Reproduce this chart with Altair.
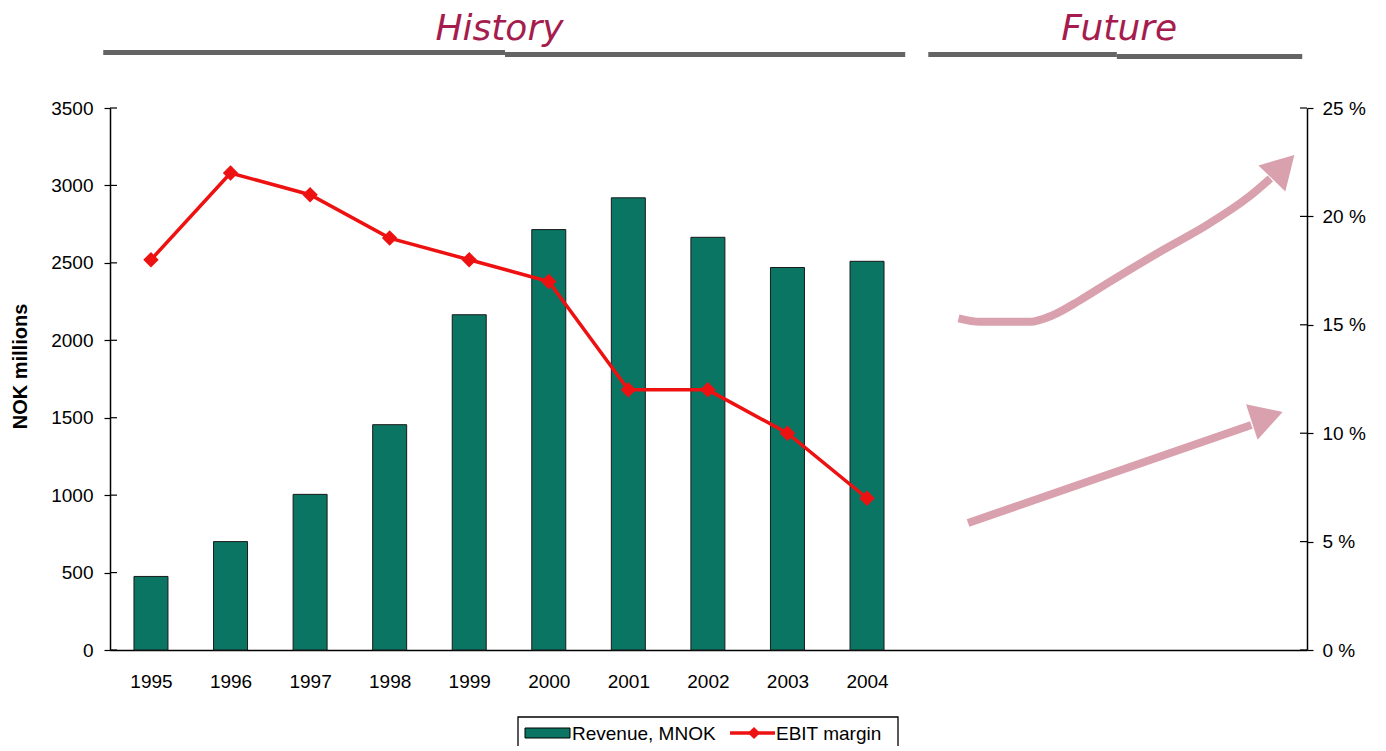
import altair as alt
import pandas as pd

# ---------------- data ----------------
years = [1995, 1996, 1997, 1998, 1999, 2000, 2001, 2002, 2003, 2004]
revenue = [475, 700, 1005, 1455, 2165, 2715, 2920, 2665, 2470, 2510]
ebit_margin = [18, 22, 21, 19, 18, 17, 12, 12, 10, 7]

left_ticks = [0, 500, 1000, 1500, 2000, 2500, 3000, 3500]
right_ticks = [0, 5, 10, 15, 20, 25]

# "Future" trend arrows (x in years, y in % of the right axis)
upper_arrow_x = [2005.15, 2005.42, 2006.05, 2006.34, 2006.68, 2007.09, 2007.72, 2008.27, 2008.78, 2009.07]
upper_arrow_y = [15.30, 15.14, 15.14, 15.45, 16.14, 17.07, 18.45, 19.60, 20.85, 21.75]
lower_arrow_x = [2005.27, 2008.83]
lower_arrow_y = [5.86, 10.38]
arrow_head_x = [2009.23, 2009.03]
arrow_head_y = [22.29, 10.75]
arrow_head_angle = [44, 72]

section_labels = ["History", "Future"]
section_label_x = [1999.38, 2007.17]
section_line_start = [1994.40, 1999.45, 2004.77, 2007.14]
section_line_end = [1999.45, 2004.48, 2007.14, 2009.47]

# ---------------- styles ----------------
TEAL = "#0B7563"
RED = "#EE1111"
PINK = "#D9A1AD"
CRIMSON = "#A51C4E"
GREY = "#646464"
FONT = "Liberation Sans"
W, H = 1197, 542
LBL = 19

df = pd.DataFrame({"year": years, "revenue": revenue, "margin": ebit_margin})
df_lt = pd.DataFrame({"v": left_ticks})
df_rt = pd.DataFrame({"v": right_ticks})
arrows = pd.DataFrame({
    "x": upper_arrow_x + lower_arrow_x,
    "y": upper_arrow_y + lower_arrow_y,
    "arrow": ["up"] * len(upper_arrow_x) + ["low"] * len(lower_arrow_x),
})
heads = pd.DataFrame({"x": arrow_head_x, "y": arrow_head_y, "a": arrow_head_angle})
sections = pd.DataFrame({"label": section_labels, "x": section_label_x})
one = pd.DataFrame({"k": [0]})

xscale = alt.Scale(domain=[1994.485, 2009.53], nice=False, zero=False, padding=0)
x_axis = alt.Axis(values=years, format="d", title=None, ticks=False, tickSize=0,
                  labelPadding=22, domainColor="black", domainWidth=1.5,
                  labelFontSize=LBL, labelColor="black", labelFont=FONT, grid=False)
yl_scale = alt.Scale(domain=[0, 3500], nice=False, padding=0)
yr_scale = alt.Scale(domain=[0, 25], nice=False, padding=0)

left_axis = alt.Axis(values=left_ticks, format="d", title="NOK millions", titleFont=FONT,
                     titleFontSize=20, titleFontWeight="bold", titleColor="black",
                     titleAngle=-90, titleX=-90, titleY=258, titleAlign="center",
                     titleBaseline="middle", tickSize=6, tickColor="black",
                     tickWidth=1.2, labelPadding=11, domainColor="black",
                     domainWidth=1.5, labelFontSize=LBL, labelColor="black",
                     labelFont=FONT, grid=False)
right_axis = alt.Axis(values=right_ticks, orient="right", title=None,
                      labelExpr="datum.value + ' %'", tickSize=6, tickColor="black",
                      tickWidth=1.2, labelPadding=9, domainColor="black",
                      domainWidth=1.5, labelFontSize=LBL, labelColor="black",
                      labelFont=FONT, grid=False)


def XX(f):
    return alt.X(f, scale=xscale, axis=x_axis)


def YL(f):
    return alt.Y(f, scale=yl_scale, axis=left_axis)


def YR(f):
    return alt.Y(f, scale=yr_scale, axis=right_axis)


# ---------------- left group ----------------
bars = alt.Chart(df).mark_bar(width=34, color=TEAL, stroke="#1a1a1a", strokeWidth=1).encode(
    x=XX("year:Q"), y=YL("revenue:Q"))
lticks = alt.Chart(df_lt).mark_rule(color="black", strokeWidth=1.2).encode(
    y=YL("v:Q"), x=alt.value(0), x2=alt.value(7))
left_group = alt.layer(bars, lticks)

# ---------------- right group ----------------
line = alt.Chart(df).mark_line(color=RED, strokeWidth=3.5).encode(
    x=XX("year:Q"), y=YR("margin:Q"))
pts = alt.Chart(df).mark_point(shape="diamond", filled=True, size=240, color=RED, opacity=1).encode(
    x=XX("year:Q"), y=YR("margin:Q"))
rticks = alt.Chart(df_rt).mark_rule(color="black", strokeWidth=1.2).encode(
    y=YR("v:Q"), x=alt.value(W - 7), x2=alt.value(W))
shafts = alt.Chart(arrows).mark_line(color=PINK, strokeWidth=8, strokeCap="butt",
                                     interpolate="monotone").encode(
    x=XX("x:Q"), y=YR("y:Q"), detail="arrow:N")
arrowheads = alt.Chart(heads).mark_point(shape="triangle-up", filled=True, size=1400,
                                         color=PINK, opacity=1).encode(
    x=XX("x:Q"), y=YR("y:Q"), angle=alt.Angle("a:Q", scale=None))

# ---------------- section headings ----------------
sec_text = alt.Chart(sections).mark_text(font="DejaVu Sans", fontStyle="italic", fontSize=36,
                                         color=CRIMSON, align="center",
                                         baseline="alphabetic").encode(
    x=XX("x:Q"), y=alt.value(-68), text="label:N")
sec_lines = []
for i, off in enumerate([-55.5, -53.5, -53.5, -51.5]):
    seg = pd.DataFrame({"s": [section_line_start[i]], "e": [section_line_end[i]]})
    sec_lines.append(alt.Chart(seg).mark_rule(color=GREY, strokeWidth=5).encode(
        x=XX("s:Q"), x2="e:Q", y=alt.value(off)))

# ---------------- legend (drawn) ----------------
lg_box = alt.Chart(one).mark_rect(fill="white", stroke="black", strokeWidth=1.3).encode(
    x=alt.value(408), x2=alt.value(788), y=alt.value(609), y2=alt.value(660))
lg_sw = alt.Chart(one).mark_rect(fill=TEAL, stroke="black", strokeWidth=1).encode(
    x=alt.value(415), x2=alt.value(460), y=alt.value(620), y2=alt.value(630))
lg_t1 = alt.Chart(one).mark_text(text="Revenue, MNOK", font=FONT, fontSize=19, align="left",
                                 baseline="middle", color="black").encode(
    x=alt.value(462), y=alt.value(626))
lg_ln = alt.Chart(one).mark_rule(color=RED, strokeWidth=3.5).encode(
    x=alt.value(620), x2=alt.value(665), y=alt.value(625))
lg_pt = alt.Chart(one).mark_point(shape="diamond", filled=True, size=150, color=RED, opacity=1).encode(
    x=alt.value(644), y=alt.value(625))
lg_t2 = alt.Chart(one).mark_text(text="EBIT margin", font=FONT, fontSize=19, align="left",
                                 baseline="middle", color="black").encode(
    x=alt.value(666), y=alt.value(626))

right_group = alt.layer(line, pts, rticks, shafts, arrowheads, sec_text, *sec_lines,
                        lg_box, lg_sw, lg_t1, lg_ln, lg_pt, lg_t2)

chart = alt.layer(left_group, right_group).resolve_scale(y="independent").properties(
    width=W, height=H,
    padding={"left": 110, "top": 108, "right": 73, "bottom": 96},
    autosize=alt.AutoSizeParams(type="none"),
    background="white",
).configure_view(stroke=None)

chart.save("out.html", embed_options={"renderer": "svg", "actions": False})
